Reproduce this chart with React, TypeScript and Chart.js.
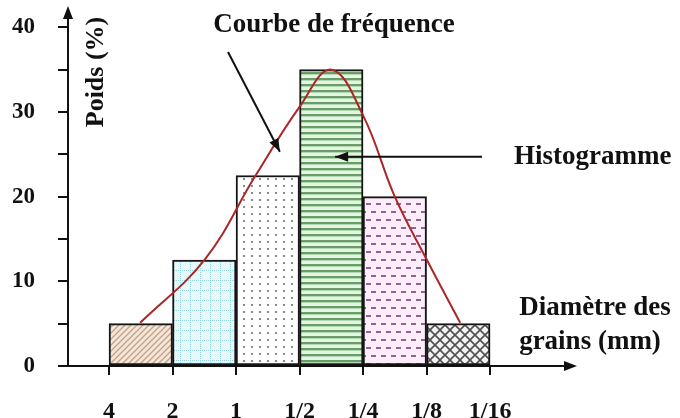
import React, { useEffect, useRef } from 'react';
import { Chart, registerables } from 'chart.js';

Chart.register(...registerables);

// ---- data ----
const xTickLabels = ['4', '2', '1', '1/2', '1/4', '1/8', '1/16'];
const binCenters = [0.5, 1.5, 2.5, 3.5, 4.5, 5.5];
const binWeights = [5, 12.5, 22.5, 35, 20, 5];
const curveX = [0.49, 1.51, 2.3, 3.0, 3.5, 4.0, 4.5, 5.0, 5.53];
const curveY = [5.1, 12.6, 22.4, 30.6, 35, 29.6, 20, 12.6, 5.1];
const yLabelStep = 10;
const yTickStep = 5;

const FONT = "'Liberation Serif', 'Times New Roman', serif";

function makeTile(w: number, h: number, draw: (c: CanvasRenderingContext2D) => void) {
  const cv = document.createElement('canvas');
  cv.width = w;
  cv.height = h;
  const c = cv.getContext('2d')!;
  draw(c);
  const ctx = document.createElement('canvas').getContext('2d')!;
  return ctx.createPattern(cv, 'repeat')!;
}

function buildPatterns() {
  const hatch = makeTile(6, 6, (c) => {
    c.fillStyle = '#f4e6d8';
    c.fillRect(0, 0, 6, 6);
    c.strokeStyle = '#c4a088';
    c.lineWidth = 1.3;
    c.beginPath();
    c.moveTo(-1, 7); c.lineTo(7, -1);
    c.moveTo(-4, 4); c.lineTo(4, -4);
    c.moveTo(2, 10); c.lineTo(10, 2);
    c.stroke();
  });
  const grid = makeTile(10, 10, (c) => {
    c.fillStyle = '#e8f7f9';
    c.fillRect(0, 0, 10, 10);
    c.fillStyle = '#95d3da';
    for (let i = 0; i < 10; i += 2) {
      c.fillRect(i, 0, 1, 1);
      c.fillRect(0, i, 1, 1);
    }
  });
  const dots = makeTile(8, 7, (c) => {
    c.fillStyle = '#ffffff';
    c.fillRect(0, 0, 8, 7);
    c.fillStyle = '#8c8c8c';
    c.fillRect(3, 3, 2, 2);
  });
  const stripes = makeTile(6, 6, (c) => {
    c.fillStyle = '#e4f6e2';
    c.fillRect(0, 0, 6, 6);
    c.fillStyle = '#6a9c6a';
    c.fillRect(0, 0, 6, 2);
    c.fillStyle = '#b4d8b2';
    c.fillRect(0, 2, 6, 1);
  });
  const dashes = makeTile(10, 16, (c) => {
    c.fillStyle = '#fcedf9';
    c.fillRect(0, 0, 10, 16);
    c.fillStyle = '#94609e';
    c.fillRect(1, 3, 5, 2);
    c.fillRect(6, 11, 5, 2);
    c.fillRect(-4, 11, 5, 2);
  });
  const cross = makeTile(10, 10, (c) => {
    c.fillStyle = '#f3f3f3';
    c.fillRect(0, 0, 10, 10);
    c.strokeStyle = '#505050';
    c.lineWidth = 1.6;
    c.beginPath();
    c.moveTo(-1, -1); c.lineTo(11, 11);
    c.moveTo(-1, 11); c.lineTo(11, -1);
    c.stroke();
  });
  return [hatch, grid, dots, stripes, dashes, cross];
}

function arrowHead(ctx: CanvasRenderingContext2D, x1: number, y1: number, x2: number, y2: number, len: number, half: number) {
  const ang = Math.atan2(y2 - y1, x2 - x1);
  ctx.beginPath();
  ctx.moveTo(x2, y2);
  ctx.lineTo(x2 - len * Math.cos(ang) + half * Math.sin(ang), y2 - len * Math.sin(ang) - half * Math.cos(ang));
  ctx.lineTo(x2 - len * Math.cos(ang) - half * Math.sin(ang), y2 - len * Math.sin(ang) + half * Math.cos(ang));
  ctx.closePath();
  ctx.fill();
}

const annotPlugin = {
  id: 'annot',
  afterDraw(chart: any) {
    const { ctx, chartArea: a, scales } = chart;
    const x = scales.x;
    const y = scales.y;
    ctx.save();
    ctx.fillStyle = '#111';
    ctx.strokeStyle = '#111';
    // axis arrowheads
    arrowHead(ctx, a.left, a.top + 10, a.left, a.top - 12, 13, 5);
    arrowHead(ctx, a.right - 10, a.bottom, a.right + 12, a.bottom, 13, 5);

    ctx.font = `bold 27px ${FONT}`;
    ctx.textBaseline = 'middle';
    ctx.textAlign = 'center';
    ctx.fillText('Courbe de fréquence', 334, 25);
    ctx.textAlign = 'left';
    ctx.fillText('Histogramme', 514, 157);
    ctx.textAlign = 'center';
    ctx.fillText('Diamètre des', 595, 308);
    ctx.fillText('grains (mm)', 590, 342);

    // y title inside plot
    ctx.save();
    ctx.translate(96, 72);
    ctx.rotate(-Math.PI / 2);
    ctx.font = `bold 26px ${FONT}`;
    ctx.fillText('Poids (%)', 0, 0);
    ctx.restore();

    // annotation arrows
    ctx.lineWidth = 2;
    const t1x = x.getPixelForValue(2.69);
    const t1y = y.getPixelForValue(25.3);
    ctx.beginPath();
    ctx.moveTo(228, 52);
    ctx.lineTo(t1x, t1y);
    ctx.stroke();
    arrowHead(ctx, 228, 52, t1x, t1y, 13, 5);

    const t2x = x.getPixelForValue(3.56);
    const t2y = y.getPixelForValue(24.7);
    ctx.beginPath();
    ctx.moveTo(482, t2y);
    ctx.lineTo(t2x, t2y);
    ctx.stroke();
    arrowHead(ctx, 482, t2y, t2x, t2y, 13, 5);
    ctx.restore();
  },
};

export default function App() {
  const ref = useRef<HTMLCanvasElement | null>(null);
  useEffect(() => {
    const canvas = ref.current!;
    const patterns = buildPatterns();
    Chart.defaults.font.family = FONT;
    const chart = new Chart(canvas, {
      type: 'bar',
      data: {
        datasets: [
          {
            type: 'line',
            label: 'Courbe de fréquence',
            data: curveX.map((v, i) => ({ x: v, y: curveY[i] })),
            borderColor: '#ab2626',
            borderWidth: 2,
            pointRadius: 0,
            tension: 0.4,
            fill: false,
            order: 0,
          } as any,
          {
            type: 'bar',
            label: 'Histogramme',
            data: binCenters.map((v, i) => ({ x: v, y: binWeights[i] })),
            backgroundColor: patterns as any,
            borderColor: '#151515',
            borderWidth: 2,
            borderSkipped: false,
            barPercentage: 1,
            categoryPercentage: 1,
            order: 1,
          } as any,
        ],
      },
      options: {
        responsive: false,
        animation: false,
        events: [],
        layout: { padding: { top: 18, right: 115, left: 0, bottom: 0 } },
        plugins: { legend: { display: false }, tooltip: { enabled: false } },
        scales: {
          x: {
            type: 'linear',
            offset: false,
            min: -0.646,
            max: 7.18,
            afterBuildTicks: (s: any) => {
              s.ticks = xTickLabels.map((_, i) => ({ value: i }));
            },
            afterFit: (s: any) => {
              s.height = 52;
              s.paddingLeft = 0;
              s.paddingRight = 0;
            },
            ticks: {
              autoSkip: false,
              maxRotation: 0,
              padding: 22,
              color: '#111',
              font: { size: 24, weight: 'bold', family: FONT },
              callback: (v: any) => xTickLabels[Math.round(v)] ?? '',
            },
            grid: {
              display: true,
              offset: false,
              drawOnChartArea: false,
              drawTicks: true,
              tickLength: 9,
              color: '#111',
              lineWidth: 2,
            },
            border: { display: true, color: '#111', width: 2 },
          },
          y: {
            type: 'linear',
            min: 0,
            max: 41.1,
            afterFit: (s: any) => {
              s.width = 68;
              s.paddingTop = 0;
              s.paddingBottom = 0;
            },
            ticks: {
              stepSize: yTickStep,
              includeBounds: false,
              padding: 23,
              color: '#111',
              font: { size: 23, weight: 'bold', family: FONT },
              callback: (v: any) => (v % yLabelStep === 0 ? String(v) : ''),
            },
            grid: {
              display: true,
              drawOnChartArea: false,
              drawTicks: true,
              tickLength: 10,
              color: '#111',
              lineWidth: 2,
            },
            border: { display: true, color: '#111', width: 2 },
          },
        },
      },
      plugins: [annotPlugin],
    });
    return () => chart.destroy();
  }, []);
  return (
    <div style={{ position: 'fixed', left: 0, top: 0, width: 680, height: 418, background: '#fff' }}>
      <canvas ref={ref} width={680} height={418} style={{ width: 680, height: 418, display: 'block' }} />
    </div>
  );
}
